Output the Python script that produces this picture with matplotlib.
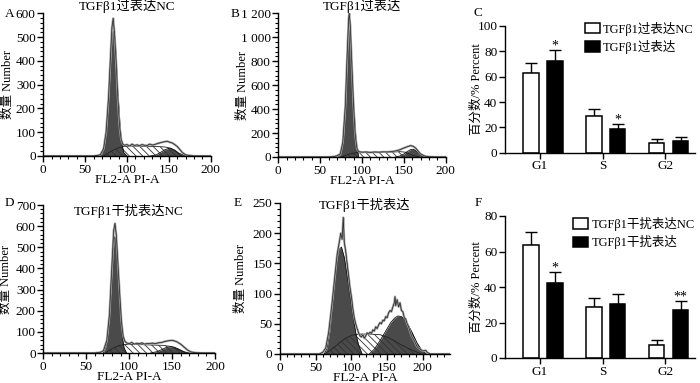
import numpy as np
import matplotlib
matplotlib.use('Agg')
import matplotlib.pyplot as plt
from matplotlib.ticker import MultipleLocator

plt.rcParams['font.family'] = ['Liberation Serif', 'Noto Sans CJK SC']
plt.rcParams['font.size'] = 9.5
plt.rcParams['hatch.linewidth'] = 0.6
plt.rcParams['axes.unicode_minus'] = False

# ---- panel A: TGFb1 overexpression NC ----
a_raw_x = [0, 60, 64, 68, 72, 75, 78, 80, 82, 83.5, 85, 87, 89, 91, 93, 95, 97, 100, 103, 106, 109, 112,
           115, 118, 121, 124, 127, 130, 133, 136, 139, 142, 145, 148, 151, 154, 157, 160, 163, 166,
           170, 175, 180, 200]
a_raw_y = [0, 0, 2, 5, 30, 100, 250, 400, 540, 579, 520, 400, 250, 130, 70, 50, 45, 48, 42, 50, 44, 47,
           43, 48, 45, 44, 50, 46, 48, 52, 55, 58, 60, 62, 58, 55, 48, 40, 28, 15,
           5, 2, 0, 0]
a_g1_x = [66, 70, 73, 75, 77, 79, 81, 82.5, 84, 85.5, 87, 88.5, 90, 92, 94, 96, 100]
a_g1_y = [0, 10, 50, 100, 190, 300, 440, 515, 525, 500, 420, 300, 220, 110, 50, 15, 0]
a_s_x = [72, 80, 88, 95, 105, 120, 135, 145, 152, 158, 165]
a_s_y = [0, 18, 32, 40, 42, 41, 40, 38, 33, 20, 0]
a_g2_x = [128, 135, 140, 145, 150, 153, 157, 162, 168, 172]
a_g2_y = [0, 5, 15, 26, 32, 31, 25, 12, 3, 0]

# ---- panel B: TGFb1 overexpression ----
b_raw_x = [0, 60, 66, 70, 74, 77, 80, 82, 84, 84.8, 86, 88, 90, 92, 94, 96, 100, 105, 110, 115, 120,
           125, 130, 135, 140, 145, 150, 155, 158, 161, 164, 167, 170, 175, 180, 190, 200]
b_raw_y = [0, 0, 3, 10, 25, 120, 420, 800, 1150, 1200, 1100, 750, 420, 180, 70, 45, 40, 42, 38, 42, 40,
           43, 42, 45, 50, 60, 75, 88, 95, 90, 75, 50, 25, 8, 2, 0, 0]
b_g1_x = [72, 75, 78, 80, 82, 84, 85, 86, 87.5, 89, 91, 93, 96]
b_g1_y = [0, 30, 180, 380, 780, 1080, 1130, 1060, 820, 560, 330, 130, 0]
b_s_x = [75, 85, 95, 110, 130, 145, 152, 160, 168]
b_s_y = [0, 25, 40, 40, 38, 45, 40, 15, 0]
b_g2_x = [140, 145, 150, 154, 158, 161, 164, 168, 172, 176]
b_g2_y = [0, 8, 25, 45, 62, 65, 55, 30, 10, 0]
b_yticks = [0, 200, 400, 600, 800, 1000, 1200]
b_yticklabels = ['0', '200', '400', '600', '800', '1 000', '1 200']

# ---- panel D: TGFb1 knockdown NC ----
d_raw_x = [0, 60, 66, 70, 74, 77, 80, 82, 83.5, 85, 87, 89, 91, 93, 95, 97, 100, 103, 106, 109, 112,
           115, 118, 121, 124, 127, 130, 134, 138, 142, 146, 150, 153, 156, 160, 164, 168, 172,
           178, 185, 200]
d_raw_y = [0, 0, 3, 10, 60, 180, 420, 580, 613, 560, 420, 280, 150, 80, 55, 48, 44, 50, 42, 46, 44,
           48, 42, 45, 44, 47, 44, 48, 50, 55, 58, 60, 57, 52, 42, 28, 14, 5,
           1, 0, 0]
d_g1_x = [70, 73, 75, 77, 79, 81, 83, 84.5, 86, 88, 90, 92, 94, 97]
d_g1_y = [0, 30, 90, 180, 320, 460, 550, 540, 440, 300, 170, 80, 25, 0]
d_s_x = [72, 80, 88, 95, 110, 125, 140, 150, 158, 166]
d_s_y = [0, 20, 35, 40, 40, 38, 36, 30, 15, 0]
d_g2_x = [125, 132, 138, 143, 148, 153, 158, 164, 170]
d_g2_y = [0, 6, 16, 26, 30, 27, 18, 6, 0]

# ---- panel E: TGFb1 knockdown ----
e_raw_x = [0, 55, 60, 64, 68, 72, 76, 80, 83, 85, 87, 88.6, 90, 92, 94, 96, 98, 100, 102, 104, 106,
           108, 110, 112, 114, 116, 118, 120, 122, 124, 126, 128, 130, 132, 134, 136, 138, 140,
           142, 144, 146, 148, 150, 152, 154, 156, 158, 160, 161, 162, 164, 166, 168, 170, 172,
           174, 176, 178, 180, 184, 188, 192, 196, 200, 204, 206, 210, 238]
e_raw_y = [0, 0, 3, 10, 35, 75, 120, 165, 185, 200, 190, 226, 185, 170, 150, 130, 110, 95, 75, 60, 50,
           42, 35, 30, 28, 32, 26, 30, 35, 33, 36, 34, 40, 38, 45, 42, 48, 52,
           50, 56, 55, 62, 60, 68, 72, 70, 78, 85, 95, 80, 90, 78, 85, 72, 70,
           60, 58, 50, 45, 30, 22, 12, 8, 5, 6, 3, 0, 0]
e_g1_x = [62, 66, 70, 74, 78, 82, 86, 90, 94, 98, 102, 106, 110, 115]
e_g1_y = [0, 10, 40, 95, 145, 172, 177, 160, 130, 98, 65, 35, 15, 0]
e_s_x = [62, 70, 80, 90, 100, 110, 125, 140, 150, 160, 170, 180, 190, 198]
e_s_y = [0, 6, 15, 25, 31, 33, 33, 32, 28, 22, 15, 9, 4, 0]
e_g2_x = [125, 132, 140, 148, 155, 160, 165, 170, 175, 180, 186, 192, 198, 205]
e_g2_y = [0, 8, 22, 38, 52, 59, 63, 62, 57, 47, 33, 18, 7, 0]

# ---- bar panels ----
phases = ['G1', 'S', 'G2']
c_labels = ['TGFβ1过表达NC', 'TGFβ1过表达']
c_nc = [63, 29, 8]
c_nc_err = [7.5, 5.5, 2.5]
c_tr = [72.5, 18.5, 9]
c_tr_err = [8.5, 4, 3]
c_marks = ['*', '*', '']

f_labels = ['TGFβ1干扰表达NC', 'TGFβ1干扰表达']
f_nc = [63.5, 29, 7.5]
f_nc_err = [7.5, 5, 2.5]
f_tr = [42, 30.5, 27]
f_tr_err = [6.5, 5.5, 5]
f_marks = ['*', '', '**']

DARK = '#4a4a4a'
W, H = 700, 383


def px_axes(l, t, r, b):
    return fig.add_axes([l / W, 1 - b / H, (r - l) / W, (b - t) / H])


def style_axes(ax):
    for s in ['top', 'right']:
        ax.spines[s].set_visible(False)
    for s in ['left', 'bottom']:
        ax.spines[s].set_linewidth(1.0)
    ax.tick_params(direction='out', length=4, width=1.0, pad=1.5)
    ax.tick_params(which='minor', direction='out', length=2.2, width=0.8)


def draw_hist(ax, raw_x, raw_y, g1_x, g1_y, s_x, s_y, g2_x, g2_y):
    ax.fill_between(g1_x, g1_y, color=DARK, lw=0)
    ax.fill_between(g2_x, g2_y, color=DARK, lw=0)
    ax.fill_between(s_x, s_y, facecolor='none', hatch='\\\\\\\\\\', edgecolor='#333333', lw=0)
    ax.plot(s_x, s_y, color='#222222', lw=0.6)
    ax.plot(g1_x, g1_y, color='#111111', lw=0.6)
    ax.plot(g2_x, g2_y, color='#111111', lw=0.6)
    ax.plot(raw_x, raw_y, color='#a0a0a0', lw=1.6)
    ax.plot(raw_x, raw_y, color='#222222', lw=0.5)


def hist_panel(ax, data, xmax, ymax, ymaj, ymin, ylab_x):
    draw_hist(ax, *data)
    style_axes(ax)
    ax.set_xlim(0, xmax)
    ax.set_ylim(0, ymax)
    ax.set_xticks([0, 50, 100, 150, 200])
    ax.xaxis.set_minor_locator(MultipleLocator(10))
    ax.yaxis.set_major_locator(MultipleLocator(ymaj))
    ax.yaxis.set_minor_locator(MultipleLocator(ymin))
    ax.set_xlabel('FL2-A PI-A', labelpad=-1)
    ax.set_ylabel('数量 Number', fontsize=9)
    ax.yaxis.set_label_coords(ylab_x, 0.5)


def bar_panel(ax, labels, nc, nc_err, tr, tr_err, marks, ymax, legend_xy, legend_fs):
    x = np.arange(len(phases))
    off = 0.19
    bw = 0.25
    ax.bar(x - off, nc, bw, color='white', edgecolor='black', lw=1.1, zorder=2, label=labels[0])
    ax.bar(x + off, tr, bw, color='black', edgecolor='black', lw=1.1, zorder=2, label=labels[1])
    ax.errorbar(x - off, nc, yerr=[np.zeros(len(nc)), nc_err], fmt='none', ecolor='black',
                elinewidth=1.0, capsize=4, capthick=1.0, zorder=1)
    ax.errorbar(x + off, tr, yerr=[np.zeros(len(tr)), tr_err], fmt='none', ecolor='black',
                elinewidth=1.0, capsize=4, capthick=1.0, zorder=1)
    for i, m in enumerate(marks):
        if m:
            ax.text(x[i] + off, tr[i] + tr_err[i] - ymax * 0.02, m, ha='center', va='bottom',
                    fontsize=10)
    style_axes(ax)
    ax.set_xlim(-0.6, 2.42)
    ax.set_ylim(0, ymax)
    ax.set_xticks(x - 0.05)
    ax.set_xticklabels(phases)
    ax.yaxis.set_major_locator(MultipleLocator(20))
    ax.set_ylabel('百分数/% Percent', fontsize=9)
    ax.yaxis.set_label_coords(-0.115, 0.5)
    ax.legend(loc='upper left', bbox_to_anchor=legend_xy, frameon=False, handlelength=1.2,
              handleheight=0.9, handletextpad=0.25, labelspacing=0.35, borderaxespad=0,
              borderpad=0, fontsize=legend_fs)


fig = plt.figure(figsize=(W / 100, H / 100), dpi=100)

axA = px_axes(43.3, 13.3, 210.7, 156)
hist_panel(axA, (a_raw_x, a_raw_y, a_g1_x, a_g1_y, a_s_x, a_s_y, a_g2_x, a_g2_y),
           200, 600, 100, 20, -0.175)
axA.set_title('TGFβ1过表达NC', fontsize=9.5, pad=1)

axB = px_axes(278.3, 13.3, 445.7, 157)
hist_panel(axB, (b_raw_x, b_raw_y, b_g1_x, b_g1_y, b_s_x, b_s_y, b_g2_x, b_g2_y),
           200, 1200, 200, 40, -0.175)
axB.set_yticks(b_yticks)
axB.set_yticklabels(b_yticklabels)
axB.set_title('TGFβ1过表达', fontsize=9.5, pad=1)

axD = px_axes(43.3, 205, 215, 353)
hist_panel(axD, (d_raw_x, d_raw_y, d_g1_x, d_g1_y, d_s_x, d_s_y, d_g2_x, d_g2_y),
           200, 700, 100, 20, -0.18)
axD.text(0.5, 0.96, 'TGFβ1干扰表达NC', transform=axD.transAxes, ha='center', va='center',
         fontsize=9.5)

axE = px_axes(280, 203, 450, 354)
hist_panel(axE, (e_raw_x, e_raw_y, e_g1_x, e_g1_y, e_s_x, e_s_y, e_g2_x, e_g2_y),
           238, 250, 50, 10, -0.194)
axE.text(0.5, 0.99, 'TGFβ1干扰表达', transform=axE.transAxes, ha='center', va='center',
         fontsize=9.5)

axC = px_axes(505, 26, 695, 152.7)
bar_panel(axC, c_labels, c_nc, c_nc_err, c_tr, c_tr_err, c_marks, 100, (0.42, 1.035), 9)

axF = px_axes(505, 216, 695, 358)
bar_panel(axF, f_labels, f_nc, f_nc_err, f_tr, f_tr_err, f_marks, 80, (0.36, 0.995), 9)

for lab, x, y in [('A', 10, 14), ('B', 235, 14), ('C', 478, 13),
                  ('D', 9, 203), ('E', 238, 203), ('F', 478, 203)]:
    fig.text(x / W, 1 - y / H, lab, ha='center', va='center', fontsize=9.5)

fig.savefig('out.png', dpi=100)
